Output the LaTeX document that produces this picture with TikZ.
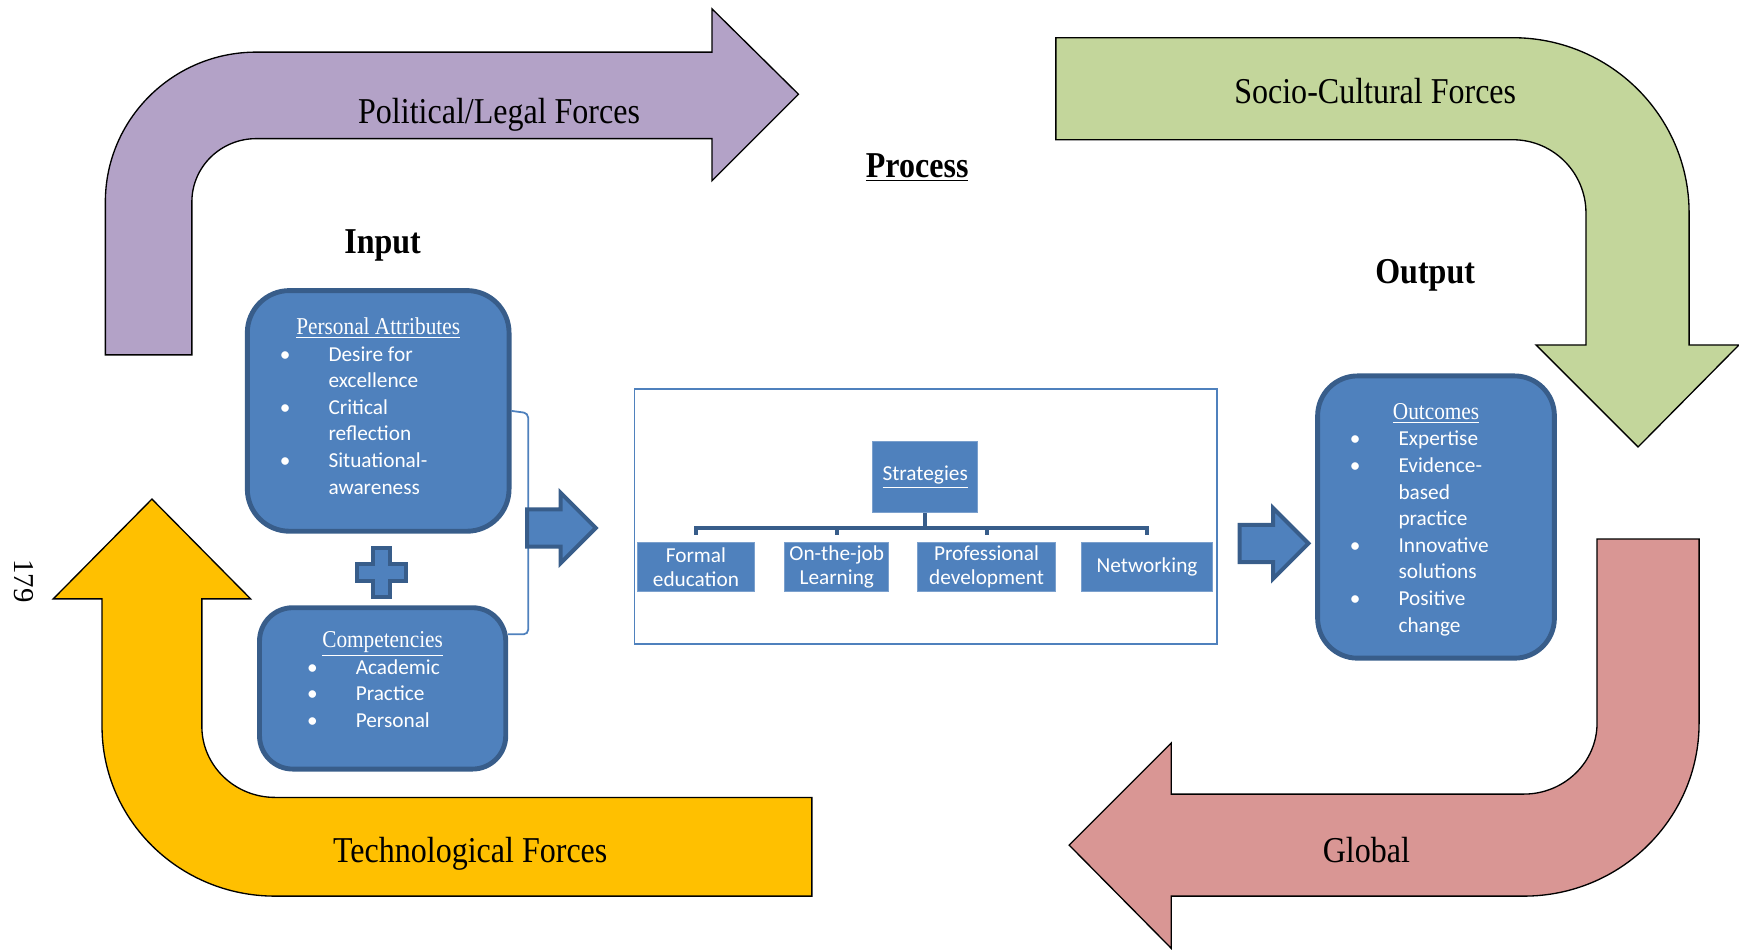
\documentclass[tikz,border=0pt]{standalone}
\usepackage{fontspec}
\setmainfont{Liberation Serif}
\newfontfamily\condserif[FakeStretch=0.88]{Liberation Serif}
\newfontfamily\carlito{Carlito}
\usetikzlibrary{shapes.arrows, positioning}

\definecolor{purpleF}{HTML}{B3A2C7}
\definecolor{greenF}{HTML}{C3D69B}
\definecolor{pinkF}{HTML}{D99694}
\definecolor{yellowF}{HTML}{FFC000}
\definecolor{blueA}{HTML}{4F81BD}
\definecolor{blueD}{HTML}{385D8A}

\newcommand{\bitem}[2]{\makebox[#1][l]{\makebox[19.6pt][l]{\hspace{-2.3pt}\textbullet}#2}}
\newcommand{\bcont}[2]{\makebox[#1][l]{\hspace{19.6pt}#2}}
\newcommand{\boxtitle}[1]{{\condserif\fontsize{10.9pt}{12pt}\selectfont\underline{#1}}}

\begin{document}
\begin{tikzpicture}[x=0.5pt, y=-0.5pt]
        % Define block styles
        \tikzstyle{force} = [draw=black, line width=0.6pt]
        \tikzstyle{forcetext} = [anchor=base, font=\condserif\fontsize{16.4pt}{19pt}\selectfont]
        \tikzstyle{stage} = [anchor=base, font=\condserif\fontsize{16.4pt}{19pt}\selectfont\bfseries]
        \tikzstyle{bluebox} = [rectangle, rounded corners=18pt, draw=blueD, line width=2.2pt, fill=blueA, text=white, inner sep=0pt, align=center, font=\carlito\fontsize{9.6pt}{12pt}\selectfont]
        \tikzstyle{childbox} = [rectangle, draw=blueA!75!white, line width=0.5pt, fill=blueA, text=white, inner sep=0pt, minimum height=22pt, align=center, font=\carlito\fontsize{9.6pt}{10.8pt}\selectfont]
        \tikzstyle{blockarrow} = [single arrow, draw=blueD, fill=blueA, line width=1.8pt, inner sep=7.5pt, minimum height=31pt, minimum width=30.5pt, single arrow head extend=7.5pt]
        \tikzstyle{treeline} = [draw=blueD, line width=1.8pt]
        \tikzstyle{linkline} = [draw=blueA, line width=0.8pt, rounded corners=2pt]

        \useasboundingbox (0,0) rectangle (1568,856);

        % Forces
        \filldraw [force, fill=purpleF] (95,320) -- (95,182) .. controls (95,107.5) and (156,47) .. (231,47) -- (642,47) -- (642,8) -- (720,85) -- (642,163) -- (642,125) -- (231,125) .. controls (199,125) and (173,150.5) .. (173,182) -- (173,320) -- cycle;
        \filldraw [force, fill=greenF] (952,34) -- (1364,34) .. controls (1451.8,34) and (1523,104.8) .. (1523,192) -- (1523,311) -- (1568,311) -- (1477,403) -- (1385,311) -- (1430,311) -- (1430,192) .. controls (1430,155.6) and (1400.4,126) .. (1364,126) -- (952,126) -- cycle;
        \filldraw [force, fill=pinkF] (1440,486) -- (1532,486) -- (1532,652) .. controls (1532,738.1) and (1461.2,808) .. (1374,808) -- (1056,808) -- (1056,855) -- (964,762) -- (1056,670) -- (1056,716) -- (1374,716) .. controls (1410.4,716) and (1440,687.3) .. (1440,652) -- cycle;
        \filldraw [force, fill=yellowF] (732,719) -- (732,808) -- (248,808) .. controls (161.9,808) and (92,739.5) .. (92,655) -- (92,540) -- (48,540) -- (137,450) -- (226,540) -- (182,540) -- (182,655) .. controls (182,690.3) and (211.6,719) .. (248,719) -- cycle;

        \node (polit) [forcetext] at (450,111) {Political/Legal Forces};
        \node (socio) [forcetext] at (1240,93) {Socio-Cultural Forces};
        \node (techno) [forcetext] at (424,778) {Technological Forces};
        \node (glob) [forcetext] at (1232,778) {Global};

        \node (inlabel) [stage] at (345,229) {Input};
        \node (proctitle) [stage] at (827,160) {\underline{Process}};
        \node (outlabel) [stage] at (1285,256) {Output};
        \node (pagenum) [rotate=-90, font=\fontsize{13pt}{15pt}\selectfont] at (22,524) {179};

        % Input
        \node (pers) [bluebox, rounded corners=19pt, minimum width=118pt, minimum height=108.5pt] at (341,370.5) {\boxtitle{Personal Attributes}\\
            \bitem{84pt}{Desire for}\\ \bcont{84pt}{excellence}\\
            \bitem{84pt}{Critical}\\ \bcont{84pt}{reflection}\\
            \bitem{84pt}{Situational-}\\ \bcont{84pt}{awareness}\rule[-4.5pt]{0pt}{4.5pt}};
        \node (comp) [bluebox, rounded corners=15pt, minimum width=111pt, minimum height=72.75pt] at (345,620.7) {\boxtitle{Competencies}\\
            \bitem{63.4pt}{Academic}\\ \bitem{63.4pt}{Practice}\\ \bitem{63.4pt}{Personal}\rule[-8pt]{0pt}{8pt}};
        \filldraw [draw=blueD, fill=blueA, line width=1.8pt] (336.5,494) -- (351.5,494) -- (351.5,508.5) -- (366,508.5) -- (366,523.5) -- (351.5,523.5) -- (351.5,538) -- (336.5,538) -- (336.5,523.5) -- (322,523.5) -- (322,508.5) -- (336.5,508.5) -- cycle;

        % Process
        \node (procbox) [rectangle, draw=blueA, line width=0.8pt, minimum width=262.5pt, minimum height=115pt] at (834.5,466) {};
        \node (strat) [childbox, minimum width=47.5pt, minimum height=32pt] at (834.2,430.3) {\underline{Strategies}};
        \node (formal) [childbox, minimum width=53pt] at (627.5,511) {Formal\\education};
        \node (onjob) [childbox, minimum width=47pt, right=13pt of formal] {On-the-job\\Learning};
        \node (profdev) [childbox, minimum width=62pt, right=12.5pt of onjob] {Professional\\development};
        \node (netw) [childbox, minimum width=58.75pt, right=11.5pt of profdev] {Networking};

        % Output
        \node (outc) [bluebox, minimum width=106.75pt, minimum height=127.25pt] at (1294.8,466.2) {\rule{0pt}{9.5pt}\boxtitle{Outcomes}\\
            \bitem{73pt}{Expertise}\\ \bitem{73pt}{Evidence-}\\ \bcont{73pt}{based}\\ \bcont{73pt}{practice}\\
            \bitem{73pt}{Innovative}\\ \bcont{73pt}{solutions}\\
            \bitem{73pt}{Positive}\\ \bcont{73pt}{change}};

        % Arrows
        \draw [linkline] (pers.east) -- ++(15,2) |- ([yshift=24.4pt]comp.east);
        \node (arrin) [blockarrow] at (497.8,476) {};
        \node (arrout) [blockarrow] at (1140.4,490) {};
        \draw [treeline] (strat.south) -- ++(0,13) coordinate (hub);
        \foreach \c in {formal, onjob, profdev, netw}
            \draw [treeline, shorten >=3pt] (hub) -| (\c.north);
\end{tikzpicture}
\end{document}
